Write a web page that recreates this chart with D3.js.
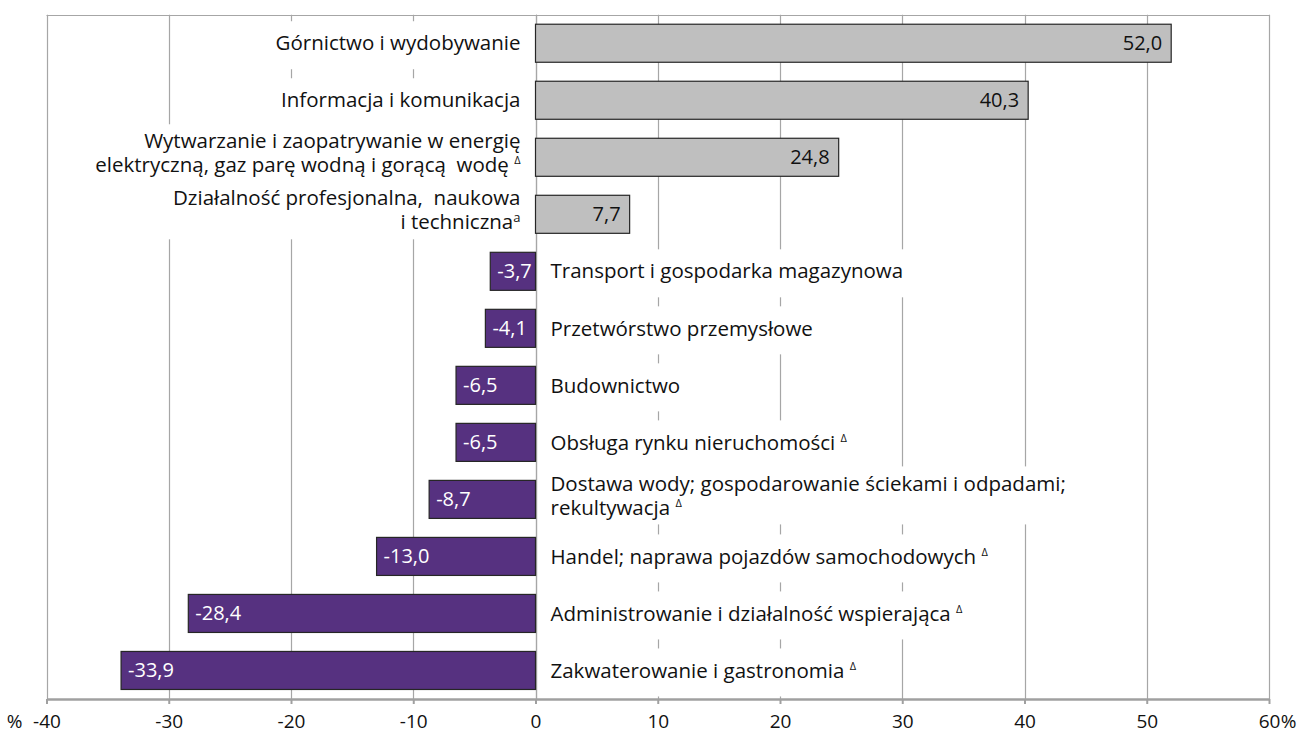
<!DOCTYPE html>
<html>
<head>
<meta charset="utf-8">
<script src="https://cdn.jsdelivr.net/npm/d3@7"></script>
<style>
  body { margin: 0; background: #fff; }
  #chart { width: 1300px; height: 734px; }
  text { font-family: "Open Sans", sans-serif; fill: #111; }
</style>
</head>
<body>
<div id="chart"></div>
<script>
// data
const sectors = [
  "Górnictwo i wydobywanie",
  "Informacja i komunikacja",
  "Wytwarzanie i zaopatrywanie w energię\nelektryczną, gaz parę wodną i gorącą  wodę",
  "Działalność profesjonalna,  naukowa\ni techniczna",
  "Transport i gospodarka magazynowa",
  "Przetwórstwo przemysłowe",
  "Budownictwo",
  "Obsługa rynku nieruchomości",
  "Dostawa wody; gospodarowanie ściekami i odpadami;\nrekultywacja",
  "Handel; naprawa pojazdów samochodowych",
  "Administrowanie i działalność wspierająca",
  "Zakwaterowanie i gastronomia"
];
const notes = ["", "", "Δ", "a", "", "", "", "Δ", "Δ", "Δ", "Δ", "Δ"];
const values = [52.0, 40.3, 24.8, 7.7, -3.7, -4.1, -6.5, -6.5, -8.7, -13.0, -28.4, -33.9];
const tickValues = [-40, -30, -20, -10, 0, 10, 20, 30, 40, 50, 60];

const width = 1300;
const height = 734;
const margin = {top: 14.7, left: 46.5, right: 31, bottom: 35};

const svg = d3.select("#chart")
    .append("svg")
    .attr("width", width)
    .attr("height", height);

const xScale = d3.scaleLinear()
    .domain([-40, 60])
    .range([margin.left, width - margin.right]);

const yScale = d3.scaleBand()
    .domain(d3.range(sectors.length))
    .range([margin.top, height - margin.bottom])
    .paddingInner(0.333)
    .paddingOuter(0.167);

const plotBottom = height - margin.bottom;
const fmt = v => v.toFixed(1).replace(".", ",");

// gridlines + frame
svg.append("g")
  .selectAll("line")
  .data(tickValues)
  .enter().append("line")
    .attr("x1", d => Math.round(xScale(d)) + 0.5)
    .attr("x2", d => Math.round(xScale(d)) + 0.5)
    .attr("y1", margin.top)
    .attr("y2", plotBottom)
    .attr("stroke", "#a6a6a6")
    .attr("stroke-width", 1.2);

svg.append("line")
    .attr("x1", xScale(-40)).attr("x2", xScale(60))
    .attr("y1", Math.round(margin.top) + 0.5).attr("y2", Math.round(margin.top) + 0.5)
    .attr("stroke", "#a6a6a6")
    .attr("stroke-width", 1.2);

// category labels with white boxes over the grid
const labels = svg.append("g")
  .selectAll("g")
  .data(sectors)
  .enter().append("g");

labels.each(function(name, i) {
  const g = d3.select(this);
  const pos = values[i] >= 0;
  const lines = name.split("\n");
  const cy = yScale(i) + yScale.bandwidth() / 2 + (lines.length > 1 ? -4 : 0);
  const lh = 24;
  const tx = pos ? xScale(0) - 15 : xScale(0) + 15;
  const bg = g.append("rect").attr("fill", "#fff");
  const t = g.append("text")
      .attr("font-size", 20.5)
      .attr("text-anchor", pos ? "end" : "start")
      .style("white-space", "pre")
      .attr("x", tx)
      .attr("y", cy - (lines.length - 1) * lh / 2)
      .attr("dy", "0.35em");
  lines.forEach((ln, k) => {
    const last = k === lines.length - 1;
    t.append("tspan")
        .attr("x", tx)
        .attr("dy", k === 0 ? null : lh)
        .text(ln + (last && notes[i] === "Δ" ? " " : ""));
    if (last && notes[i]) {
      t.append("tspan")
          .attr("font-size", notes[i] === "Δ" ? 11 : 13)
          .attr("dy", notes[i] === "Δ" ? -8 : -7)
          .text(notes[i]);
    }
  });
  const bb = t.node().getBBox();
  const bh = lines.length > 1 ? bb.height + 6 : 48;
  bg.attr("x", bb.x - 5)
    .attr("width", bb.width + 10)
    .attr("y", cy - bh / 2 + (lines.length > 1 ? 0 : 2))
    .attr("height", bh);
});

// zero line
svg.append("line")
    .attr("x1", Math.round(xScale(0)) + 0.5).attr("x2", Math.round(xScale(0)) + 0.5)
    .attr("y1", margin.top).attr("y2", plotBottom)
    .attr("stroke", "#a6a6a6")
    .attr("stroke-width", 1.2);

// bars
svg.append("g")
  .selectAll("rect")
  .data(values)
  .enter().append("rect")
    .attr("x", d => xScale(Math.min(0, d)))
    .attr("width", d => Math.abs(xScale(d) - xScale(0)))
    .attr("y", (d, i) => yScale(i))
    .attr("height", yScale.bandwidth())
    .attr("fill", d => d >= 0 ? "#bfbfbf" : "#563180")
    .attr("stroke", "#262626")
    .attr("stroke-width", 1.2);

// value labels
svg.append("g")
  .selectAll("text")
  .data(values)
  .enter().append("text")
    .attr("font-size", 20)
    .attr("x", d => d >= 0 ? xScale(d) - 9 : xScale(d) + 7)
    .attr("y", (d, i) => yScale(i) + yScale.bandwidth() / 2)
    .attr("dy", "0.35em")
    .attr("text-anchor", d => d >= 0 ? "end" : "start")
    .style("fill", d => d >= 0 ? "#111" : "#ffffff")
    .text(fmt);

// x axis
const xAxis = svg.append("g")
    .attr("transform", `translate(0,${plotBottom})`)
    .call(d3.axisBottom(xScale)
        .tickValues(tickValues)
        .tickSize(5)
        .tickSizeOuter(0)
        .tickFormat(d => String(d)));

xAxis.select(".domain").attr("stroke", "#a0a0a0").attr("stroke-width", 2.5);
xAxis.selectAll(".tick line").attr("stroke", "#a0a0a0").attr("stroke-width", 2);
xAxis.selectAll(".tick text")
    .attr("y", 16)
    .attr("font-family", null)
    .attr("font-size", 19)
    .style("fill", "#111");

// percent signs at both ends
const tickTexts = xAxis.selectAll(".tick text").nodes();
const firstW = tickTexts[0].getComputedTextLength();
const lastW = tickTexts[tickTexts.length - 1].getComputedTextLength();
xAxis.append("text")
    .attr("x", xScale(-40) - firstW / 2 - 10)
    .attr("y", 16)
    .attr("dy", "0.71em")
    .attr("font-size", 19)
    .attr("text-anchor", "end")
    .text("%");
xAxis.append("text")
    .attr("x", xScale(60) + lastW / 2 + 1)
    .attr("y", 16)
    .attr("dy", "0.71em")
    .attr("font-size", 19)
    .attr("text-anchor", "start")
    .text("%");
</script>
</body>
</html>
